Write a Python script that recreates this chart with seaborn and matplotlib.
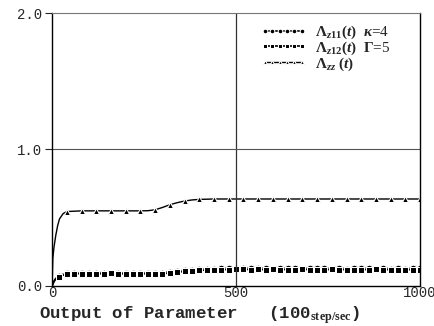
import numpy as np
import matplotlib
matplotlib.use("Agg")
import matplotlib.pyplot as plt
import seaborn as sns

# Data
x_low = [0, 5, 10, 20, 30, 40, 60, 80, 100, 120, 140, 160, 180, 200, 220, 240,
         260, 280, 300, 320, 340, 360, 380, 400, 420, 440, 460, 480, 500, 520,
         540, 560, 580, 600, 620, 640, 660, 680, 700, 720, 740, 760, 780, 800,
         820, 840, 860, 880, 900, 920, 940, 960, 980, 1000]
lam_z11 = [0.0, 0.035, 0.055, 0.075, 0.085, 0.092, 0.096, 0.094, 0.097, 0.095,
           0.098, 0.094, 0.097, 0.095, 0.098, 0.095, 0.097, 0.094, 0.098, 0.102,
           0.108, 0.114, 0.118, 0.122, 0.124, 0.127, 0.128, 0.130, 0.131, 0.129,
           0.131, 0.128, 0.130, 0.127, 0.130, 0.128, 0.131, 0.127, 0.129, 0.128,
           0.130, 0.126, 0.129, 0.127, 0.130, 0.128, 0.129, 0.126, 0.130, 0.127,
           0.129, 0.126, 0.129, 0.128]
lam_z12 = [0.0, 0.03, 0.05, 0.068, 0.078, 0.085, 0.088, 0.090, 0.087, 0.090,
           0.088, 0.091, 0.087, 0.090, 0.088, 0.090, 0.087, 0.090, 0.089, 0.094,
           0.100, 0.106, 0.110, 0.113, 0.116, 0.118, 0.119, 0.120, 0.121, 0.122,
           0.119, 0.121, 0.118, 0.121, 0.119, 0.120, 0.118, 0.121, 0.119, 0.120,
           0.117, 0.121, 0.118, 0.120, 0.117, 0.120, 0.119, 0.121, 0.118, 0.120,
           0.117, 0.120, 0.118, 0.119]
x_zz = [0, 2, 5, 10, 15, 20, 30, 40, 80, 120, 160, 200, 240, 260, 280, 300,
        320, 340, 360, 380, 400, 440, 480, 520, 560, 600, 640, 680, 720, 760,
        800, 840, 880, 920, 960, 1000]
lam_zz = [0.0, 0.2, 0.28, 0.37, 0.44, 0.49, 0.53, 0.545, 0.55, 0.55, 0.55,
          0.55, 0.55, 0.551, 0.558, 0.575, 0.595, 0.61, 0.622, 0.63, 0.634,
          0.637, 0.637, 0.637, 0.637, 0.637, 0.637, 0.637, 0.637, 0.637,
          0.637, 0.637, 0.637, 0.637, 0.637, 0.637]

labels = [r'$\Lambda_{z11}(t)$  $\kappa$=4',
          r'$\Lambda_{z12}(t)$  $\Gamma$=5',
          r'$\Lambda_{zz}$ $(t)$']

sns.set_style("white")
plt.rcParams['mathtext.fontset'] = 'custom'
plt.rcParams['mathtext.it'] = 'Liberation Serif:italic:bold'
plt.rcParams['mathtext.rm'] = 'Liberation Serif:bold'
plt.rcParams['mathtext.bf'] = 'Liberation Serif:bold'
plt.rcParams['font.family'] = ['Liberation Serif', 'DejaVu Serif']

fig = plt.figure(figsize=(4.34, 3.26), dpi=100)
ax = fig.add_axes([0.12, 0.123, 0.848, 0.837])

mk_low = [i for i, v in enumerate(x_low) if v % 20 == 0 and v > 0]
mk_zz = [i for i, v in enumerate(x_zz) if v >= 40 and v % 40 == 0]

sns.lineplot(x=x_low, y=lam_z11, ax=ax, color='black', lw=1.2, marker='o',
             markersize=4.8, markevery=mk_low, label=labels[0], sort=False)
sns.lineplot(x=x_low, y=lam_z12, ax=ax, color='black', lw=1.2, marker='s',
             markersize=4.0, markevery=mk_low, label=labels[1], sort=False)
sns.lineplot(x=x_zz, y=lam_zz, ax=ax, color='black', lw=1.0, marker='^',
             markersize=4.0, markevery=mk_zz, label=labels[2], sort=False)

ax.set_xlim(0, 1000)
ax.set_ylim(0, 2.0)
ax.set_xticks([0, 500, 1000])
ax.set_yticks([0, 1.0, 2.0])
ax.set_yticklabels(['0.0', '1.0', '2.0'])
ax.axvline(500, color='#333333', lw=0.9)
ax.axhline(1.0, color='#555555', lw=0.8)

for lab in ax.get_xticklabels() + ax.get_yticklabels():
    lab.set_family('Liberation Mono')
    lab.set_fontsize(10)
ax.tick_params(axis='y', length=5, width=0.8, pad=2, direction='out', left=True)
ax.tick_params(axis='x', length=0, pad=0)

for side in ['left', 'right', 'bottom']:
    ax.spines[side].set_color('black')
    ax.spines[side].set_linewidth(1.0)
ax.spines['top'].set_color('#777777')
ax.spines['top'].set_linestyle((0, (4, 1)))
ax.spines['top'].set_linewidth(0.8)

ax.set_xlabel('Output of Parameter   (100$_{\\mathbf{step/sec}}$)',
              family='Liberation Mono', fontsize=12.5, fontweight='bold',
              labelpad=3, ha='left', x=-0.035)
ax.set_ylabel('')

leg = ax.legend(loc='upper right', frameon=False, fontsize=11, numpoints=6,
                handlelength=3.0, handletextpad=0.6, labelspacing=-0.1,
                borderaxespad=0.3, bbox_to_anchor=(0.95, 1.0))
for ln in leg.get_lines():
    ln.set_markevery(None)
    ln.set_markersize(ln.get_markersize() * 0.7)

fig.savefig('out.png', dpi=100)
